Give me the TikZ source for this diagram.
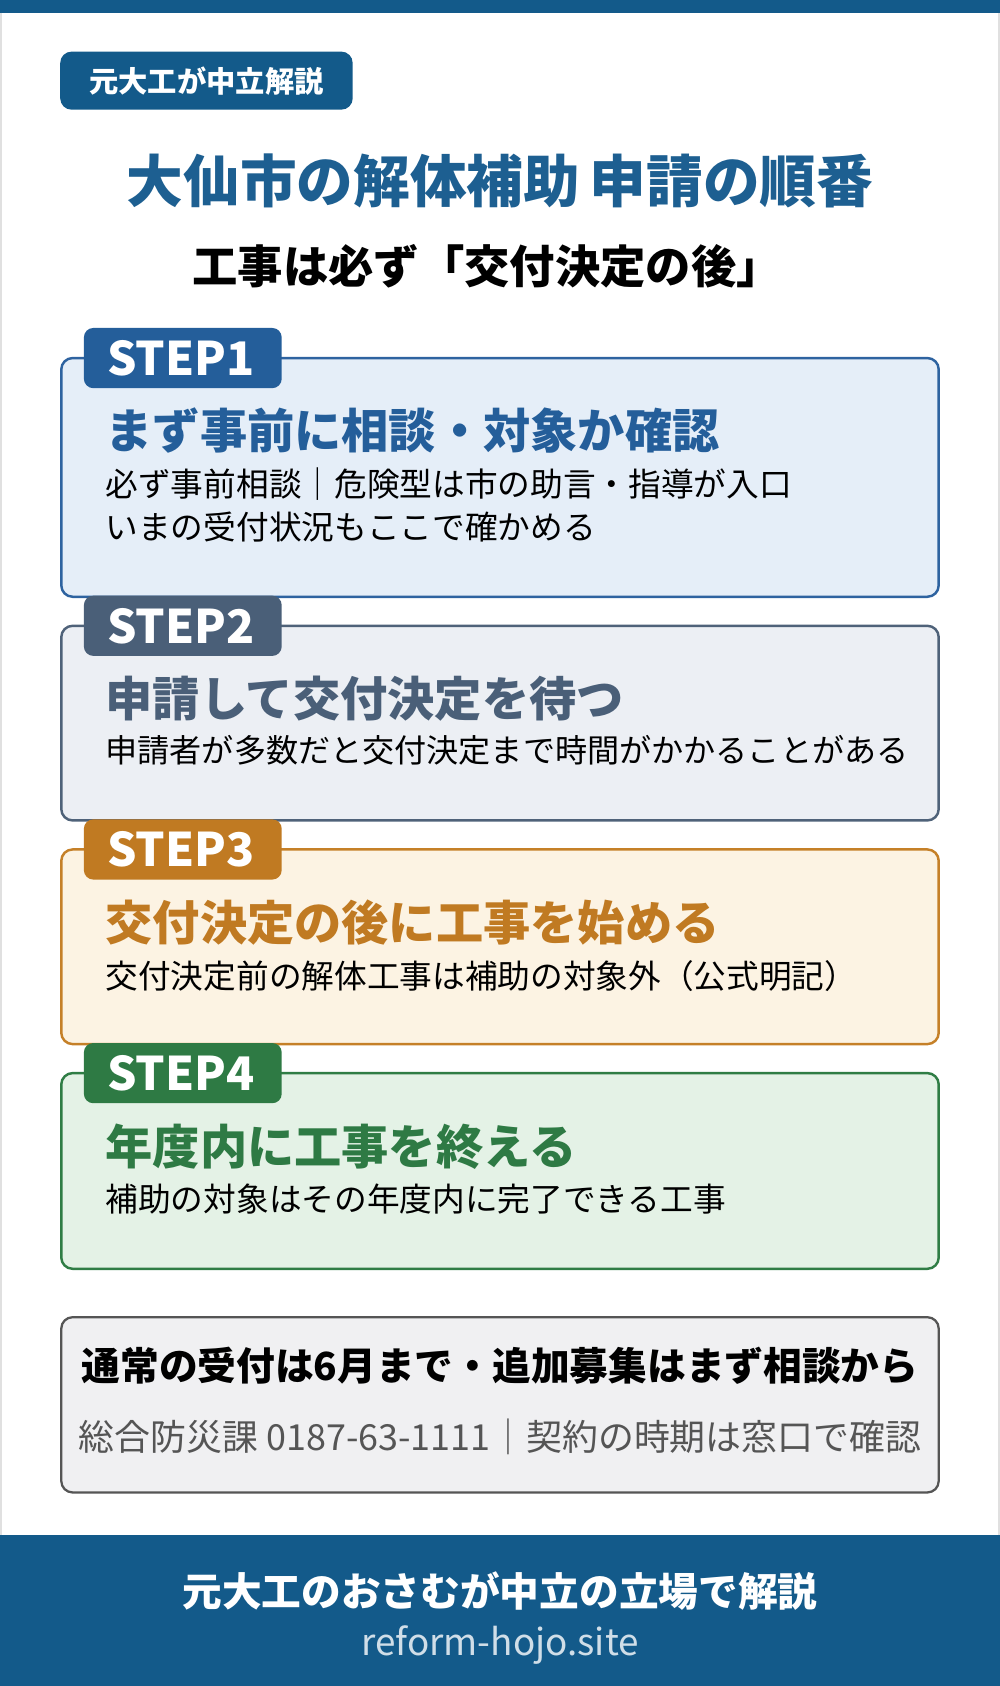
\documentclass[tikz,border=0pt]{standalone}
\usepackage{fontspec}
\setmainfont{Noto Sans CJK JP}
\usepackage{xcolor}
\definecolor{BARcolor}{HTML}{135A8A}
\definecolor{TITLEcolor}{HTML}{1D5F91}
\definecolor{ONEline}{HTML}{2E63A0}
\definecolor{ONEfill}{HTML}{E5EEF8}
\definecolor{ONEtab}{HTML}{245E9A}
\definecolor{TWOline}{HTML}{4F6279}
\definecolor{TWOfill}{HTML}{ECEFF4}
\definecolor{TWOtab}{HTML}{4A5F78}
\definecolor{THREEline}{HTML}{C58028}
\definecolor{THREEfill}{HTML}{FCF3E3}
\definecolor{THREEtab}{HTML}{C07A22}
\definecolor{FOURline}{HTML}{2F7D45}
\definecolor{FOURfill}{HTML}{E4F2E6}
\definecolor{FOURtab}{HTML}{2E7A44}
\definecolor{NOTEfill}{HTML}{F0F0F2}
\definecolor{NOTEline}{HTML}{555555}
\usepackage{tikz}

\begin{document}
\begin{tikzpicture}[x=0.02cm, y=-0.02cm]

    \tikzset{%
        fs/.style args={#1}{font=\fontsize{#1}{#1}\selectfont},
        bold/.style={execute at begin node=\bfseries},
        pics/STEP/.style args={#1/#2/#3}{%
                code={%
                        \fill [#1fill, draw=#1line, line width=1.3pt, rounded corners=6pt] (57, 0) rectangle (873, #2);
                        \fill [#1tab, rounded corners=5pt] (78, -28) rectangle (262, 28);
                        \node [fs=24.5pt, text=white, bold] at (168, 0) {STEP#3};
                    }
            }
    }

    \useasboundingbox (0, 0) rectangle (930, 1568);
    \fill [BARcolor] (0, 0) rectangle (930, 12);
    \draw [black!12, line width=1pt] (1, 12) -- (1, 1428) (929, 12) -- (929, 1428);

    % header
    \fill [BARcolor, rounded corners=6pt] (56, 48) rectangle (328, 102);
    \node [fs=15.5pt, text=white, bold] (badge) at (192, 75) {元大工が中立解説};
    \node [fs=30pt, text=TITLEcolor, bold] (title) at (465, 168) {大仙市の解体補助\,申請の順番};
    \node [fs=24pt, bold] (subtitle) at (453, 248) {工事は必ず「交付決定の後」};

    % steps
    \pic at (0, 333) {STEP=ONE/222/1};
    \node [fs=25pt, text=ONEtab, bold, anchor=west] at (92, 400) {まず事前に相談・対象か確認};
    \node [fs=17.3pt, anchor=west] at (92, 450) {必ず事前相談｜危険型は市の助言・指導が入口};
    \node [fs=17.3pt, anchor=west] at (92, 490) {いまの受付状況もここで確かめる};

    \pic at (0, 582) {STEP=TWO/181/2};
    \node [fs=25pt, text=TWOtab, bold, anchor=west] at (92, 650) {申請して交付決定を待つ};
    \node [fs=17pt, anchor=west] at (92, 698) {申請者が多数だと交付決定まで時間がかかることがある};

    \pic at (0, 790) {STEP=THREE/181/3};
    \node [fs=25pt, text=THREEtab, bold, anchor=west] at (92, 858) {交付決定の後に工事を始める};
    \node [fs=17.3pt, anchor=west] at (92, 908) {交付決定前の解体工事は補助の対象外（公式明記）};

    \pic at (0, 998) {STEP=FOUR/182/4};
    \node [fs=25pt, text=FOURtab, bold, anchor=west] at (92, 1066) {年度内に工事を終える};
    \node [fs=17.3pt, anchor=west] at (92, 1115) {補助の対象はその年度内に完了できる工事};

    % note
    \fill [NOTEfill, draw=NOTEline, line width=1.2pt, rounded corners=6pt] (57, 1225) rectangle (873, 1388);
    \node [fs=20.5pt, bold] (note) at (465, 1270) {通常の受付は6月まで・追加募集はまず相談から};
    \node [fs=19pt, text=NOTEline] (contact) at (465, 1336) {総合防災課 0187-63-1111｜契約の時期は窓口で確認};

    % footer
    \fill [BARcolor] (0, 1428) rectangle (930, 1568);
    \node [fs=21pt, text=white, bold] (footer) at (465, 1480) {元大工のおさむが中立の立場で解説};
    \node [fs=19.5pt, text=white!80!BARcolor] (url) at (465, 1530) {reform-hojo.site};

\end{tikzpicture}
\end{document}
